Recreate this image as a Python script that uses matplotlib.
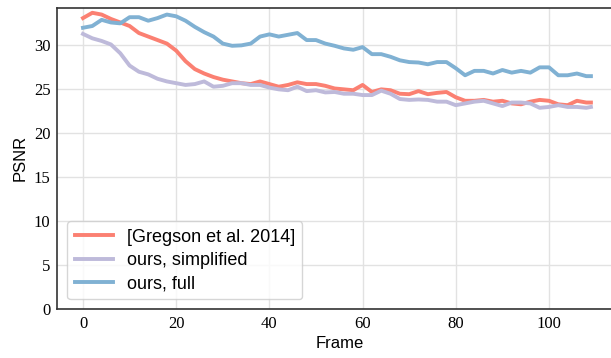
import matplotlib
matplotlib.use("Agg")
import matplotlib.pyplot as plt

frames = [0, 2, 4, 6, 8, 10, 12, 14, 16, 18, 20, 22, 24, 26, 28, 30, 32, 34, 36, 38,
          40, 42, 44, 46, 48, 50, 52, 54, 56, 58, 60, 62, 64, 66, 68, 70, 72, 74, 76, 78,
          80, 82, 84, 86, 88, 90, 92, 94, 96, 98, 100, 102, 104, 106, 108, 109]

gregson = [33.1, 33.7, 33.5, 33.0, 32.6, 32.2, 31.4, 31.0, 30.6, 30.2, 29.4, 28.2, 27.3, 26.8,
           26.4, 26.1, 25.9, 25.7, 25.6, 25.9, 25.6, 25.3, 25.5, 25.8, 25.6, 25.6, 25.4, 25.1,
           25.0, 24.9, 25.5, 24.7, 25.0, 24.9, 24.5, 24.45, 24.8, 24.45, 24.6, 24.7, 24.1, 23.7,
           23.7, 23.8, 23.6, 23.7, 23.4, 23.3, 23.6, 23.8, 23.7, 23.3, 23.2, 23.7, 23.5, 23.5]

simplified = [31.3, 30.8, 30.5, 30.1, 29.1, 27.7, 27.0, 26.7, 26.2, 25.9, 25.7, 25.5, 25.6, 25.9,
              25.3, 25.4, 25.7, 25.7, 25.5, 25.5, 25.2, 25.0, 24.9, 25.3, 24.8, 24.9, 24.65, 24.7,
              24.5, 24.5, 24.35, 24.35, 24.85, 24.5, 23.9, 23.8, 23.85, 23.8, 23.6, 23.6, 23.2, 23.4,
              23.6, 23.7, 23.4, 23.1, 23.5, 23.5, 23.4, 22.9, 23.0, 23.2, 23.0, 23.0, 22.9, 23.0]

full = [32.0, 32.2, 32.9, 32.6, 32.5, 33.2, 33.2, 32.8, 33.1, 33.5, 33.3, 32.8, 32.1, 31.5,
        31.0, 30.2, 29.95, 30.0, 30.2, 31.0, 31.25, 31.0, 31.2, 31.4, 30.6, 30.6, 30.2, 29.95,
        29.65, 29.5, 29.8, 29.0, 29.0, 28.7, 28.3, 28.1, 28.05, 27.85, 28.1, 28.1, 27.4, 26.6,
        27.1, 27.1, 26.8, 27.2, 26.9, 27.1, 26.9, 27.5, 27.5, 26.6, 26.6, 26.8, 26.5, 26.5]

labels = ["[Gregson et al. 2014]", "ours, simplified", "ours, full"]
colors = ["#fb8072", "#bebada", "#80b1d3"]

fig = plt.figure(figsize=(6.11, 3.58), dpi=100)
ax = fig.add_axes([0.0939, 0.136, 0.9228, 0.843])

for ys, lab, c in zip([gregson, simplified, full], labels, colors):
    ax.plot(frames, ys, color=c, lw=2.8, label=lab)

ax.set_xlim(-5.5, 115.5)
ax.set_ylim(0, 34.3)
ax.set_xticks([0, 20, 40, 60, 80, 100])
ax.set_yticks([0, 5, 10, 15, 20, 25, 30])
ax.grid(True, color="#e2e2e2", lw=1)
ax.set_axisbelow(True)

for s in ax.spines.values():
    s.set_color("#333333")
    s.set_linewidth(1.2)

ax.tick_params(length=0, pad=5)
for t in ax.get_xticklabels() + ax.get_yticklabels():
    t.set_fontfamily("Liberation Serif")
    t.set_fontsize(12)

ax.set_xlabel("Frame", fontfamily="Liberation Sans", fontsize=12, labelpad=3)
ax.set_ylabel("PSNR", fontfamily="Liberation Sans", fontsize=12, labelpad=4)

leg = ax.legend(loc="lower left", prop={"family": "Liberation Sans", "size": 13},
                handlelength=2.15, handletextpad=0.75, labelspacing=0.35,
                borderaxespad=0.55, borderpad=0.4,
                fancybox=True, framealpha=0.8, edgecolor="#cccccc")

fig.savefig("out.png", dpi=100)
